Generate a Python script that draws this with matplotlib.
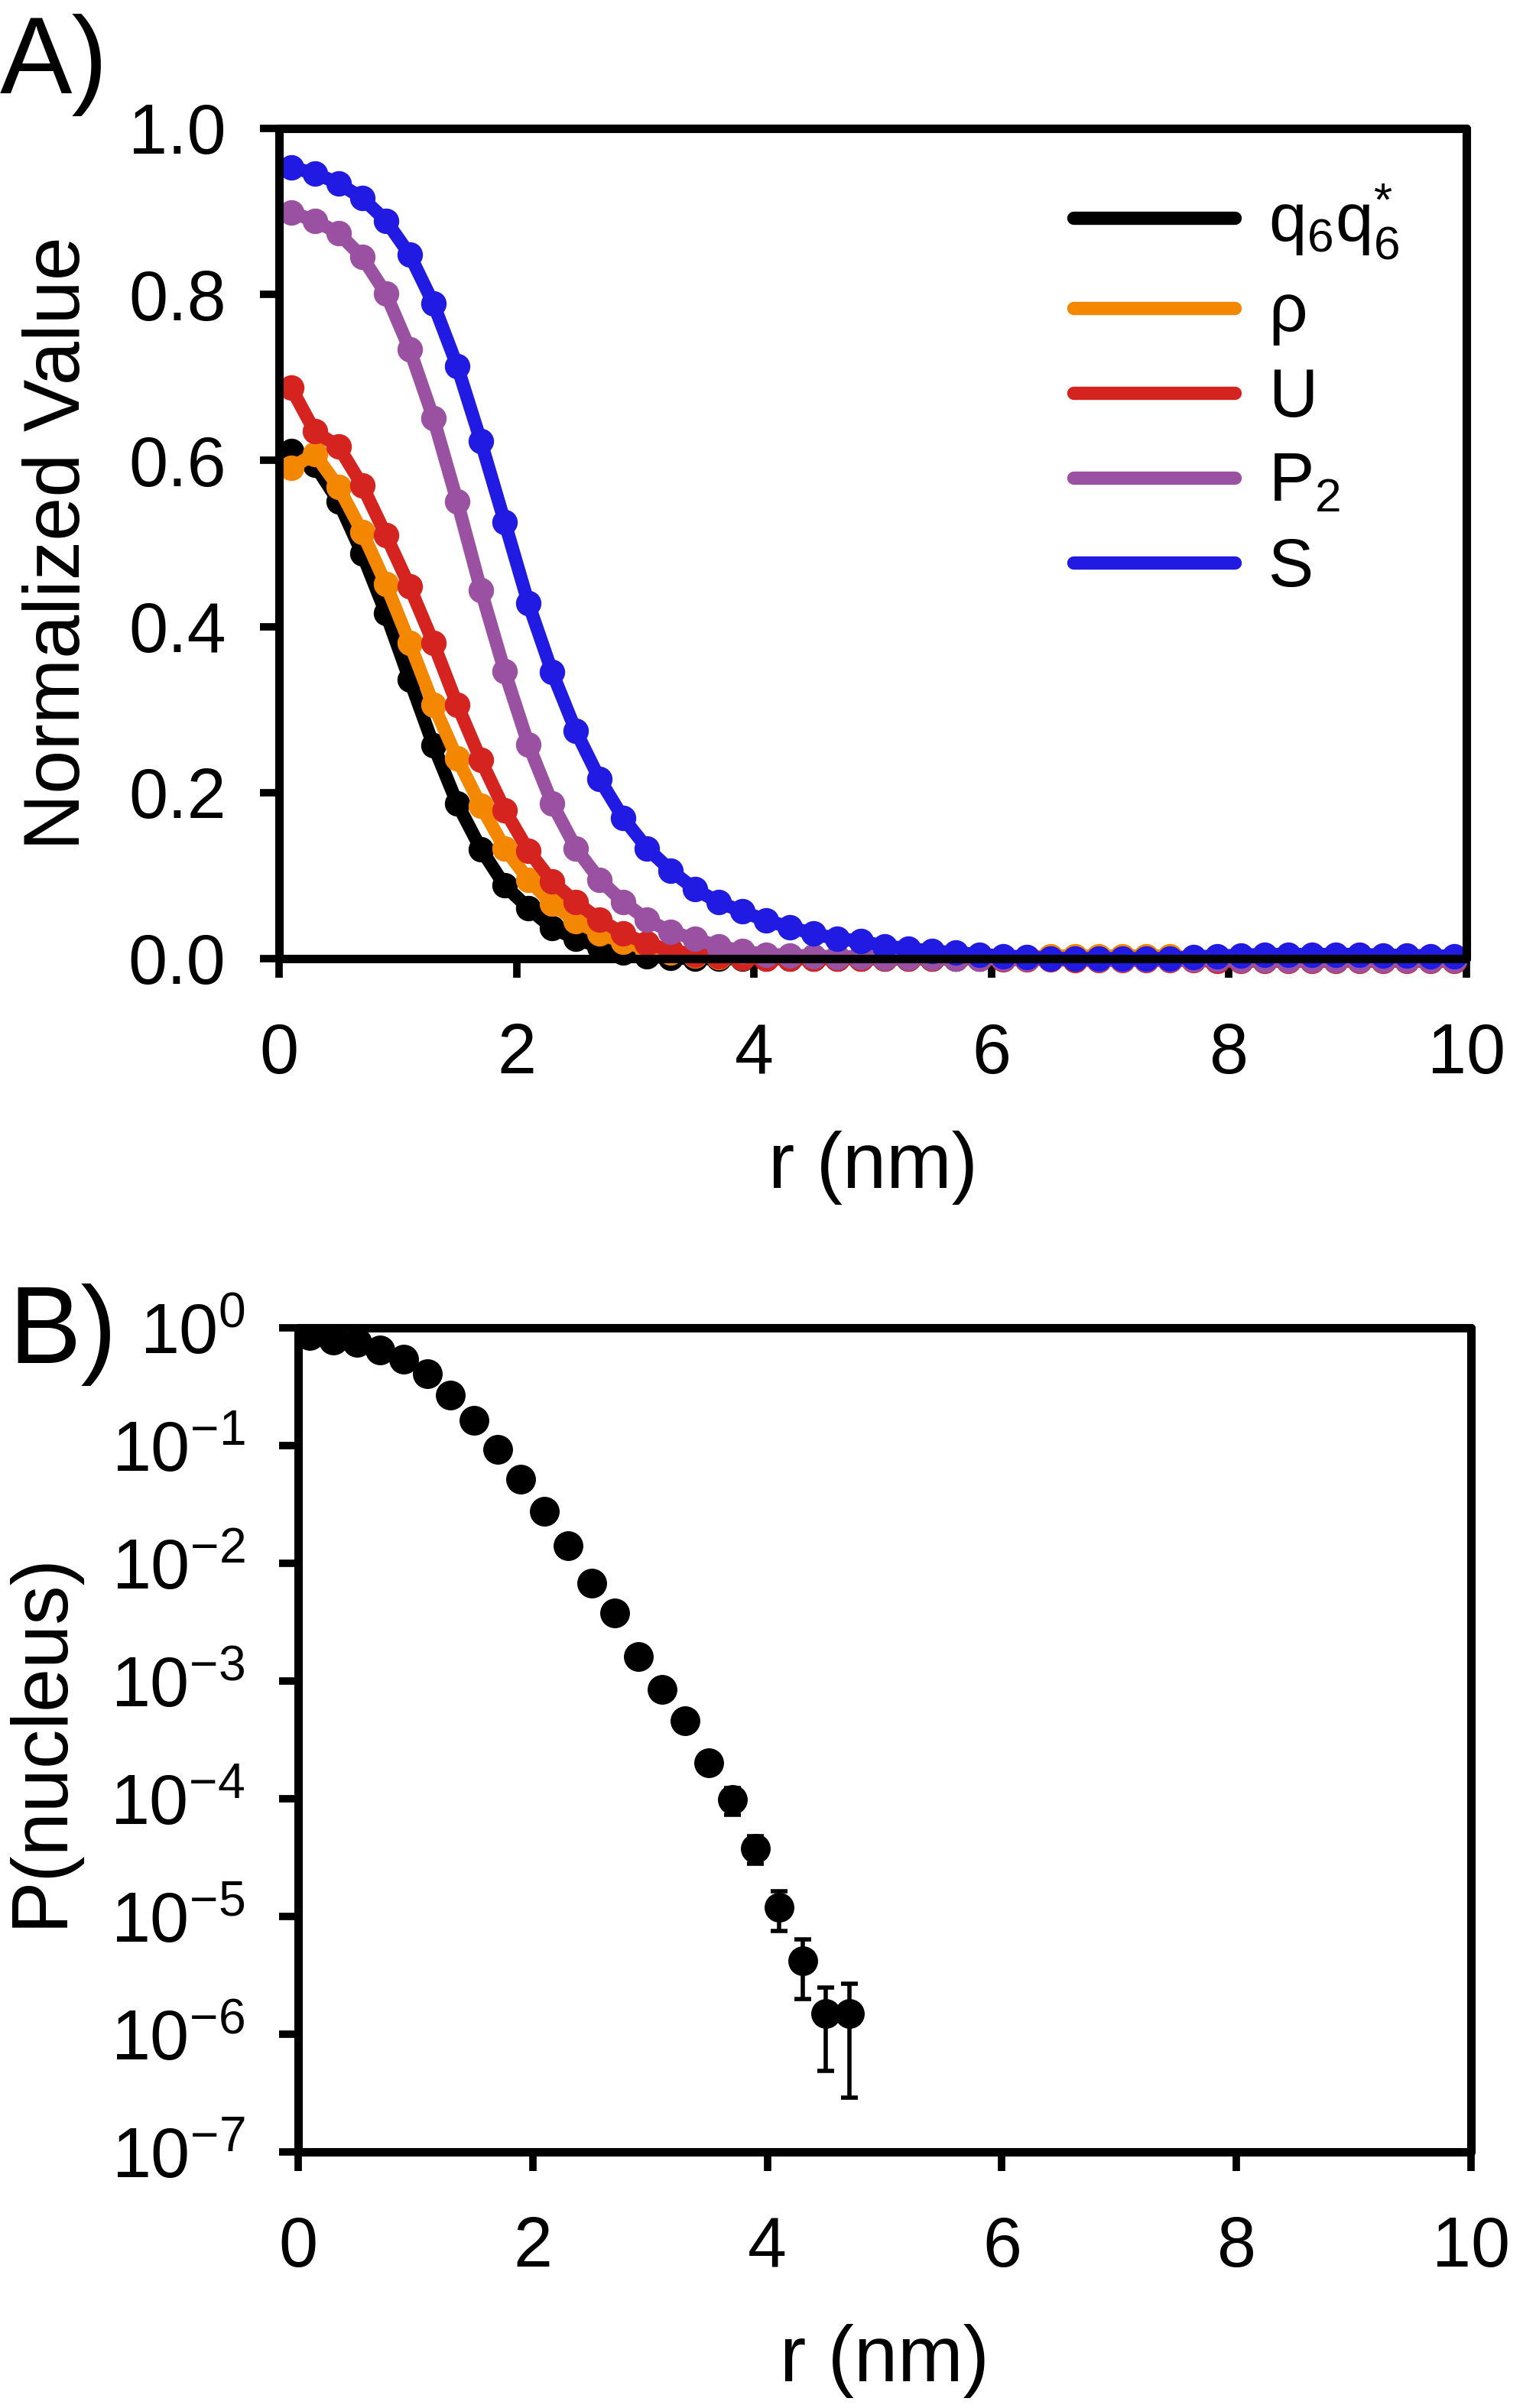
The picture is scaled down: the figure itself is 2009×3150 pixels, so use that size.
import numpy as np
import matplotlib
matplotlib.use("Agg")
import matplotlib.pyplot as plt
from matplotlib.ticker import LogLocator, NullLocator, FixedLocator

plt.rcParams['font.family'] = ['Liberation Sans', 'DejaVu Sans']
plt.rcParams['mathtext.fontset'] = 'custom'
plt.rcParams['mathtext.rm'] = 'Liberation Sans'
plt.rcParams['mathtext.it'] = 'Liberation Sans:italic'
plt.rcParams['mathtext.bf'] = 'Liberation Sans:bold'

# ---------------- Panel A data ----------------
r_a = [0.1, 0.3, 0.5, 0.7, 0.9, 1.1, 1.3, 1.5, 1.7, 1.9,
       2.1, 2.3, 2.5, 2.7, 2.9, 3.1, 3.3, 3.5, 3.7, 3.9,
       4.1, 4.3, 4.5, 4.7, 4.9, 5.1, 5.3, 5.5, 5.7, 5.9,
       6.1, 6.3, 6.5, 6.7, 6.9, 7.1, 7.3, 7.5, 7.7, 7.9,
       8.1, 8.3, 8.5, 8.7, 8.9, 9.1, 9.3, 9.5, 9.7, 9.9]

q6q6 = [0.611, 0.595, 0.551, 0.488, 0.416, 0.336, 0.257, 0.187, 0.132, 0.088,
        0.061, 0.037, 0.024, 0.014, 0.007, 0.003, 0.001, 0.000, 0.000, 0.000,
        0.000, 0.000, 0.000, 0.000, 0.000, 0.000, 0.000, 0.000, 0.000, 0.000,
        0.000, 0.000, 0.000, 0.000, 0.000, 0.000, 0.000, 0.000, 0.000, 0.000,
        0.000, 0.000, 0.000, 0.000, 0.000, 0.000, 0.000, 0.000, 0.000, 0.000]

rho = [0.591, 0.608, 0.568, 0.514, 0.451, 0.380, 0.306, 0.241, 0.184, 0.133,
       0.095, 0.066, 0.045, 0.030, 0.020, 0.012, 0.007, 0.004, 0.002, 0.001,
       0.001, 0.001, 0.001, 0.001, 0.001, 0.001, 0.001, 0.001, 0.001, 0.001,
       0.001, 0.002, 0.003, 0.003, 0.003, 0.003, 0.003, 0.003, 0.001, 0.001,
       0.001, 0.000, 0.000, 0.000, 0.000, 0.000, 0.000, 0.000, 0.000, 0.000]

U = [0.688, 0.635, 0.617, 0.570, 0.510, 0.448, 0.380, 0.306, 0.239, 0.179,
     0.130, 0.093, 0.068, 0.047, 0.030, 0.018, 0.010, 0.005, 0.003, 0.001,
     0.000, 0.000, 0.000, 0.000, 0.000, 0.000, 0.000, 0.000, 0.000, 0.000,
     -0.001, -0.001, -0.001, -0.002, -0.002, -0.002, -0.002, -0.002, -0.002, -0.003,
     -0.003, -0.003, -0.003, -0.003, -0.003, -0.003, -0.003, -0.003, -0.003, -0.003]

P2 = [0.899, 0.889, 0.874, 0.845, 0.801, 0.734, 0.651, 0.551, 0.444, 0.346,
      0.258, 0.187, 0.133, 0.095, 0.068, 0.047, 0.032, 0.024, 0.015, 0.009,
      0.005, 0.004, 0.003, 0.002, 0.002, 0.001, 0.001, 0.001, 0.000, 0.000,
      0.000, 0.000, 0.000, 0.000, -0.001, -0.001, -0.001, -0.001, -0.001, -0.001,
      -0.002, -0.002, -0.002, -0.002, -0.002, -0.002, -0.002, -0.002, -0.002, -0.002]

S = [0.953, 0.946, 0.934, 0.916, 0.889, 0.848, 0.789, 0.714, 0.623, 0.526,
     0.428, 0.345, 0.274, 0.216, 0.169, 0.133, 0.106, 0.084, 0.068, 0.057,
     0.046, 0.038, 0.030, 0.024, 0.021, 0.015, 0.012, 0.009, 0.007, 0.005,
     0.003, 0.002, 0.000, 0.000, 0.000, 0.000, 0.000, 0.000, 0.002, 0.003,
     0.004, 0.005, 0.005, 0.005, 0.005, 0.005, 0.004, 0.004, 0.003, 0.003]

series_labels = [r'$\mathregular{q_6q_6^{*}}$', r'$\mathregular{\rho}$', 'U',
                 r'$\mathregular{P_2}$', 'S']
series_colors = ['#000000', '#F38701', '#D5231F', '#9A51A2', '#201AE2']

# ---------------- Panel B data ----------------
r_b = [0.1, 0.3, 0.5, 0.7, 0.9, 1.1, 1.3, 1.5, 1.7, 1.9,
       2.1, 2.3, 2.5, 2.7, 2.9, 3.1, 3.3, 3.5, 3.7, 3.9,
       4.1, 4.3, 4.5, 4.7]
p_nucleus = [0.86, 0.79, 0.75, 0.65, 0.54, 0.41, 0.27, 0.165, 0.093, 0.052,
             0.0276, 0.0142, 0.00682, 0.0038, 0.00161, 8.46e-4, 4.6e-4, 2.02e-4,
             9.8e-5, 3.8e-5, 1.2e-5, 4.2e-6, 1.49e-6, 1.49e-6]
p_err = [0, 0, 0, 0, 0, 0, 0, 0, 0, 0,
         0, 0, 0, 0, 0, 0, 0, 0,
         2.5e-5, 1.0e-5, 4.5e-6, 2.2e-6, 1.0e-6, 1.2e-6]

xticks = [0, 2, 4, 6, 8, 10]
yticks_a = [0.0, 0.2, 0.4, 0.6, 0.8, 1.0]

# ---------------- Figure ----------------
W, H = 2009, 3150
fig = plt.figure(figsize=(W / 100, H / 100), dpi=100)

def px_axes(left, top, right, bottom):
    return fig.add_axes([left / W, 1 - bottom / H, (right - left) / W, (bottom - top) / H])

SPINE_W = 8
TICK_W = 7
TICK_L = 18
TICK_FS = 66
LABEL_FS = 74

def style_axes(ax):
    for s in ax.spines.values():
        s.set_linewidth(SPINE_W)
        s.set_capstyle('round')
    ax.tick_params(axis='both', which='major', direction='out', length=TICK_L,
                   width=TICK_W, labelsize=TICK_FS, top=False, right=False)
    ax.tick_params(axis='both', which='minor', length=0)

# Panel A
axA = px_axes(365, 168, 1918, 1254)
for yv, lab, col in zip([q6q6, rho, U, P2, S], series_labels, series_colors):
    axA.plot(r_a, yv, '-o', color=col, lw=12.5, ms=23, label=lab,
             solid_capstyle='round', solid_joinstyle='round', clip_on=False)
axA.set_xlim(0, 10)
axA.set_ylim(0, 1.0)
axA.xaxis.set_major_locator(FixedLocator(xticks))
axA.yaxis.set_major_locator(FixedLocator(yticks_a))
axA.set_yticklabels([f'{v:.1f}' for v in yticks_a])
style_axes(axA)
axA.tick_params(axis='x', pad=42)
axA.tick_params(axis='y', pad=32)
axA.set_xlabel('r (nm)', fontsize=LABEL_FS, labelpad=40)
axA.set_ylabel('Normalized Value', fontsize=LABEL_FS, labelpad=30)
leg = axA.legend(loc='upper left', bbox_to_anchor=(0.669, 0.935), frameon=False,
                 fontsize=64, handlelength=2.37, handletextpad=0.5,
                 labelspacing=0.3, borderpad=0, borderaxespad=0)
for line in leg.get_lines():
    line.set_marker('')
    line.set_linewidth(12.5)
    line.set_solid_capstyle('round')

# Panel B
axB = px_axes(390, 1737, 1924, 2815)
axB.errorbar(r_b, p_nucleus, yerr=p_err, fmt='o', color='black', ms=27,
             elinewidth=4, capsize=8, capthick=4, ecolor='black')
axB.set_yscale('log')
axB.set_xlim(0, 10)
axB.set_ylim(1e-7, 1)
axB.xaxis.set_major_locator(FixedLocator(xticks))
axB.yaxis.set_major_locator(LogLocator(base=10, numticks=20))
axB.yaxis.set_minor_locator(NullLocator())
style_axes(axB)
axB.tick_params(axis='x', pad=42)
axB.tick_params(axis='y', pad=32)
axB.set_xlabel('r (nm)', fontsize=LABEL_FS, labelpad=40)
axB.set_ylabel('P(nucleus)', fontsize=LABEL_FS, labelpad=30)

fig.text(0.0, 1 - 122 / H, 'A)', fontsize=102, ha='left', va='baseline')
fig.text(11 / W, 1 - 1783 / H, 'B)', fontsize=102, ha='left', va='baseline')

fig.savefig('out.png', dpi=100)
